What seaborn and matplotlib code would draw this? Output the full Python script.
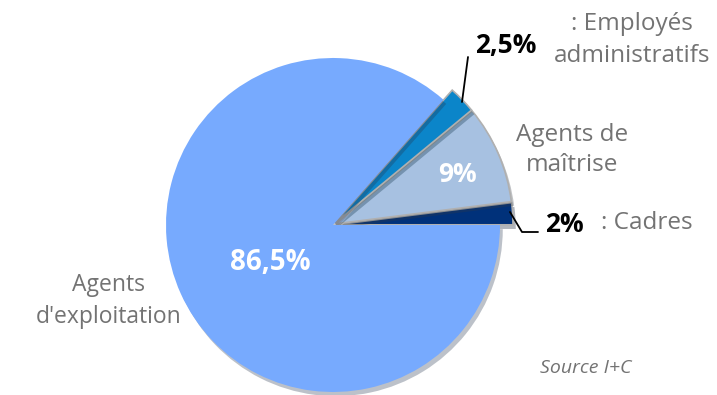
import matplotlib
matplotlib.use("Agg")
import matplotlib.pyplot as plt
import matplotlib.patheffects as pe
import seaborn as sns

# data (counter-clockwise from 3 o'clock)
categories = ["Cadres", "Agents de maîtrise", "Employés administratifs", "Agents d'exploitation"]
shares = [2, 9, 2.5, 86.5]
pct_labels = ["2%", "9%", "2,5%", "86,5%"]
colors = ["#00317a", "#a7c1e1", "#0b85c9", "#77aafe"]

sns.set_theme(style="white")
plt.rcParams["font.family"] = ["Open Sans", "DejaVu Sans"]

fig = plt.figure(figsize=(7.17, 3.95), dpi=100)
ax = fig.add_axes([0, 0, 1, 1])

cx, cy, r = 333, 170, 167
wedges, _ = ax.pie(
    shares, colors=colors, startangle=0, counterclock=True,
    center=(cx, cy), radius=r, explode=[3, 3, 3, 0],
    wedgeprops=dict(edgecolor="#b0b0b0", linewidth=1.2,
                    path_effects=[pe.SimplePatchShadow(offset=(2, -3), alpha=0.3),
                                  pe.Normal()]),
    frame=True,
)
# the small slices stick out a little past the big one
for w in wedges[:3]:
    w.set_radius(177)
wedges[3].set_linewidth(0)

ax.set_xlim(0, 717)
ax.set_ylim(0, 395)
ax.set_aspect("equal")
ax.axis("off")

grey = "#737373"
# percentages
ax.text(270, 395 - 263, pct_labels[3], color="white", fontsize=20, fontweight="bold", ha="center", va="center")
ax.text(457, 395 - 175, pct_labels[1], color="white", fontsize=19, fontweight="bold", ha="center", va="center")
ax.text(506, 395 - 46, pct_labels[2], color="black", fontsize=19, fontweight="bold", ha="center", va="center")
ax.text(564, 395 - 225, pct_labels[0], color="black", fontsize=19, fontweight="bold", ha="center", va="center")

# category names
ax.text(632, 395 - 40, ": Employés\nadministratifs", color=grey, fontsize=17.5, ha="center", va="center", linespacing=1.45)
ax.text(572, 395 - 150, "Agents de\nmaîtrise", color=grey, fontsize=17.5, ha="center", va="center", linespacing=1.3)
ax.text(647, 395 - 223, ": Cadres", color=grey, fontsize=17.5, ha="center", va="center")
ax.text(109, 395 - 301, "Agents\nd'exploitation", color=grey, fontsize=16.5, ha="center", va="center", linespacing=1.45)
ax.text(586, 395 - 368, "Source I+C", color=grey, fontsize=14, style="italic", ha="center", va="center")

# leader lines
ax.plot([468, 462], [395 - 57, 395 - 102], color="black", lw=1.3)
ax.plot([510, 522, 538], [395 - 212, 395 - 232, 395 - 232], color="black", lw=1.3)

fig.savefig("out.png", dpi=100, facecolor="white")
